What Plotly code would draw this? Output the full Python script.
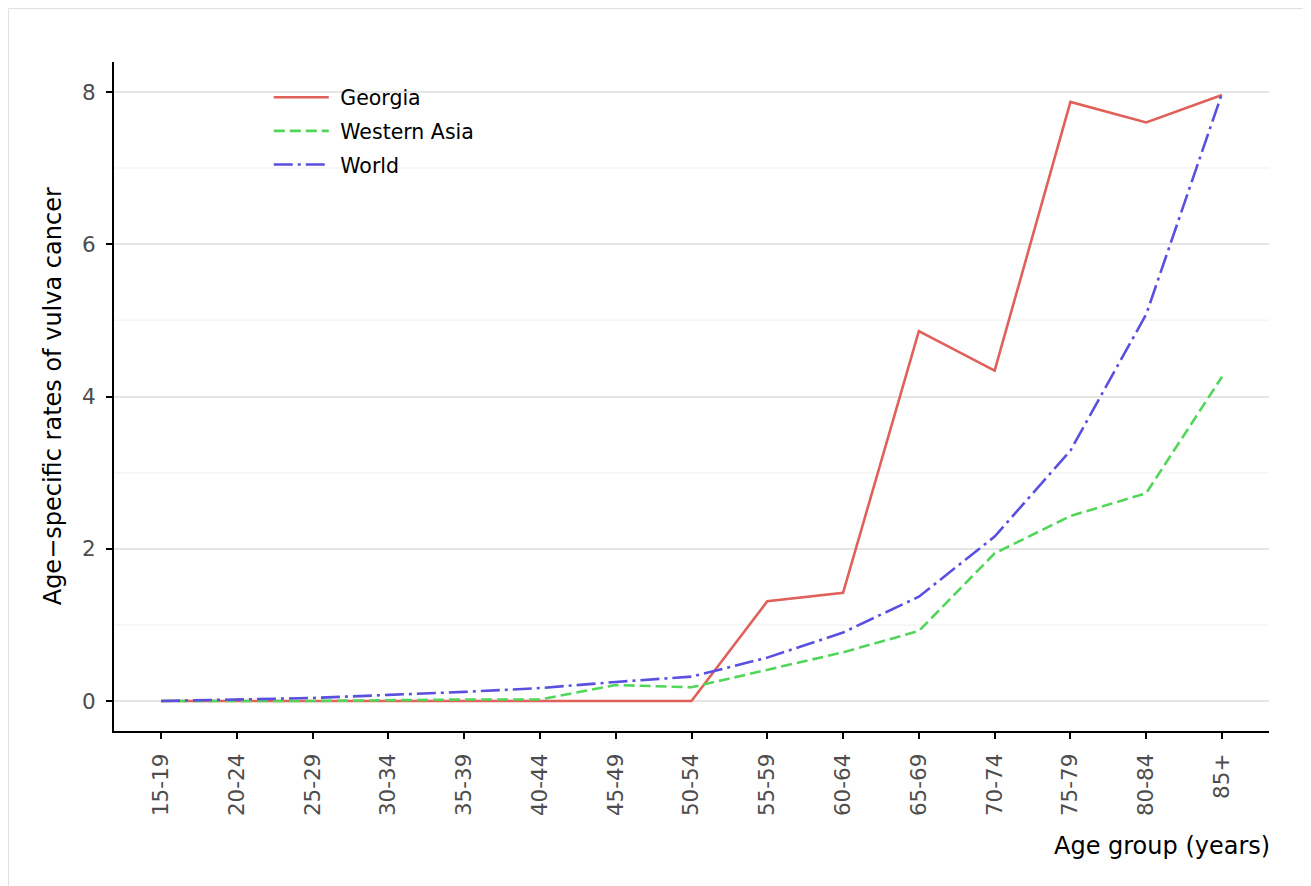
import plotly.graph_objects as go

# Age groups and age-specific rates (per 100 000)
age_groups = ["15-19", "20-24", "25-29", "30-34", "35-39", "40-44", "45-49", "50-54",
              "55-59", "60-64", "65-69", "70-74", "75-79", "80-84", "85+"]

georgia = [0, 0, 0, 0, 0, 0, 0, 0, 1.31, 1.42, 4.86, 4.34, 7.87, 7.60, 7.96]
western_asia = [0, 0, 0, 0.01, 0.02, 0.02, 0.21, 0.18, 0.41, 0.64, 0.92, 1.94, 2.43, 2.73, 4.26]
world = [0, 0.02, 0.04, 0.08, 0.12, 0.17, 0.25, 0.32, 0.57, 0.90, 1.37, 2.16, 3.29, 5.08, 7.98]

FONT = "DejaVu Sans"

fig = go.Figure()

fig.add_trace(go.Scatter(
    x=age_groups, y=georgia, mode="lines", name="\u00a0Georgia", legendgroup="g1",
    line=dict(color="#E0605A", width=2.6)
))
fig.add_trace(go.Scatter(
    x=age_groups, y=western_asia, mode="lines", name="\u00a0Western Asia", legendgroup="g2",
    line=dict(color="#52D65A", width=2.6, dash="11px,5px")
))
fig.add_trace(go.Scatter(
    x=age_groups, y=world, mode="lines", name="\u00a0World", legendgroup="g3",
    line=dict(color="#5A50E0", width=2.6, dash="19px,5px,3px,5px")
))

# minor gridlines (ggplot style)
for v in [1, 3, 5, 7]:
    fig.add_shape(type="line", xref="paper", x0=0, x1=1, yref="y", y0=v, y1=v,
                  line=dict(color="#f5f5f5", width=1.5), layer="below")

# light frame around the figure
fig.add_shape(type="rect", xref="paper", yref="paper",
              x0=-0.0913, x1=1.2, y0=-0.5, y1=1.0800,
              line=dict(color="#e0e0e0", width=1), layer="below")

fig.update_layout(
    width=1311, height=886,
    margin=dict(l=106, r=50, t=54, b=163),
    plot_bgcolor="white", paper_bgcolor="white",
    font=dict(family=FONT, size=20, color="black"),
    showlegend=True,
    legend=dict(x=0.134, y=0.977, xanchor="left", yanchor="top",
                bgcolor="rgba(0,0,0,0)", font=dict(size=20.5, color="black"),
                itemwidth=55, tracegroupgap=4, traceorder="grouped"),
    xaxis=dict(
        type="category", range=[-0.62, 14.62],
        showline=True, linecolor="black", linewidth=2,
        ticks="outside", ticklen=6, tickwidth=2, tickcolor="black",
        tickangle=-90, tickfont=dict(size=21.5, color="#4d4d4d"), ticklabelstandoff=6,
        showgrid=False, zeroline=False,
    ),
    yaxis=dict(
        range=[-0.394, 8.394], tickvals=[0, 2, 4, 6, 8],
        showline=True, linecolor="black", linewidth=2,
        ticks="outside", ticklen=6, tickwidth=2, tickcolor="black",
        tickfont=dict(size=21.5, color="#4d4d4d"), ticklabelstandoff=6,
        showgrid=True, gridcolor="#e5e5e5", gridwidth=1.5, zeroline=False,
    ),
    annotations=[
        dict(text="Age group (years)", xref="paper", yref="paper", x=1.003, y=-0.172,
             xanchor="right", yanchor="middle", showarrow=False,
             font=dict(size=24, color="black")),
        dict(text="Age\u2212specific rates of vulva cancer", xref="paper", yref="paper",
             x=-0.053, y=0.5, xanchor="center", yanchor="middle", textangle=-90,
             showarrow=False, font=dict(size=24, color="black")),
    ],
)

fig.write_html("out.html")
